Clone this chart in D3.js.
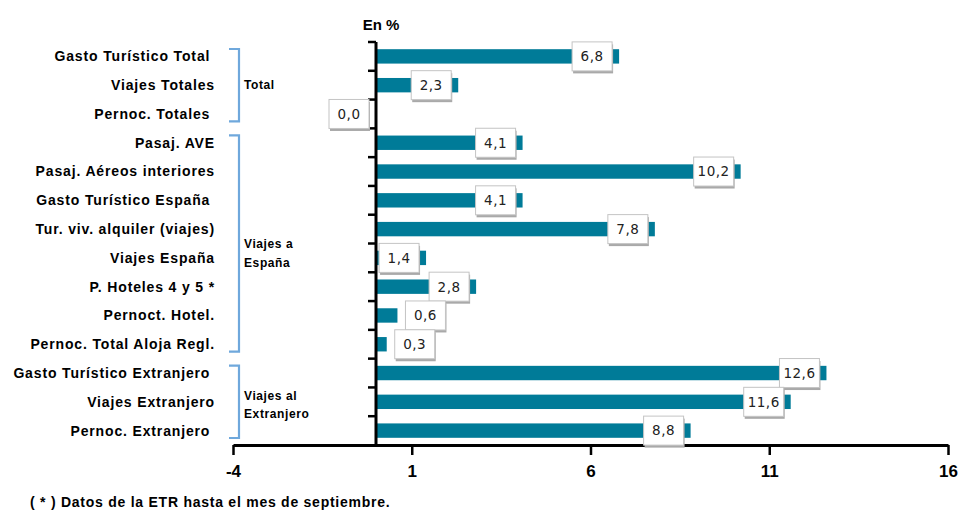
<!DOCTYPE html>
<html>
<head>
<meta charset="utf-8">
<script src="https://cdn.jsdelivr.net/npm/d3@7"></script>
<style>
  html, body { margin: 0; padding: 0; background: #fff; }
  svg { display: block; }
  text { white-space: pre; }
</style>
</head>
<body>
<svg id="chart" width="959" height="513"></svg>
<script>
// Categories (top to bottom) and their year-on-year change, in %
const categories = [
  "Gasto Turístico Total ",
  "Viajes Totales",
  "Pernoc. Totales ",
  "Pasaj. AVE",
  "Pasaj. Aéreos interiores",
  "Gasto Turístico España ",
  "Tur. viv. alquiler (viajes)",
  "Viajes España",
  "P. Hoteles 4 y 5 *",
  "Pernoct. Hotel.",
  "Pernoc. Total Aloja Regl.",
  "Gasto Turístico Extranjero ",
  "Viajes Extranjero",
  "Pernoc. Extranjero "
];
const values = [6.8, 2.3, 0.0, 4.1, 10.2, 4.1, 7.8, 1.4, 2.8, 0.6, 0.3, 12.6, 11.6, 8.8];

// Groups: label lines, first and last category index
const groupLabels = [["Total"], ["Viajes a", "España"], ["Viajes al", "Extranjero"]];
const groupStart = [0, 3, 11];
const groupEnd = [2, 10, 13];

const xTicks = [-4, 1, 6, 11, 16];
const xDomain = [-4, 16];
const unitTitle = "En %";
const footnote = "( * ) Datos de la ETR hasta el mes de septiembre.";

const svg = d3.select("#chart");
const barColor = "#007b98";
const bracketColor = "#6fa8dc";
const boldFont = "'Liberation Sans', Arial, sans-serif";

const x = d3.scaleLinear().domain(xDomain).range([233, 948]);
const y = d3.scaleBand().domain(categories).range([42, 445])
  .paddingInner(0.5).paddingOuter(0.25);

const fmt = v => v.toFixed(1).replace(".", ",");

// Bars
svg.append("g").selectAll("rect")
  .data(values)
  .join("rect")
  .attr("x", d => Math.min(x(0), x(d)))
  .attr("y", (d, i) => y(categories[i]))
  .attr("width", d => Math.abs(x(d) - x(0)))
  .attr("height", y.bandwidth())
  .attr("fill", barColor);

// X axis
const xAxis = svg.append("g")
  .attr("transform", `translate(0,${y.range()[1]})`)
  .call(d3.axisBottom(x).tickValues(xTicks).tickSize(10).tickSizeOuter(0).tickFormat(d => String(d)));
xAxis.select(".domain").attr("stroke", "#000").attr("stroke-width", 3);
xAxis.selectAll(".tick line").attr("stroke", "#000").attr("stroke-width", 2.5);
xAxis.selectAll(".tick text")
  .attr("y", 20).attr("dy", "0.71em")
  .attr("fill", "#000")
  .style("font-family", boldFont)
  .style("font-weight", "bold")
  .style("font-size", "17px");

// Y axis at zero with ticks at category boundaries
const yAxis = svg.append("g");
yAxis.append("line")
  .attr("x1", x(0)).attr("x2", x(0))
  .attr("y1", y.range()[0]).attr("y2", y.range()[1])
  .attr("stroke", "#000").attr("stroke-width", 3);
const boundaries = d3.range(categories.length).map(i => y.range()[0] + i * y.step());
yAxis.selectAll("line.tick")
  .data(boundaries)
  .join("line")
  .attr("class", "tick")
  .attr("x1", x(0) - 8).attr("x2", x(0))
  .attr("y1", d => d).attr("y2", d => d)
  .attr("stroke", "#000").attr("stroke-width", 2.5);

// Category labels
svg.append("g").selectAll("text")
  .data(categories)
  .join("text")
  .attr("x", 215)
  .attr("y", d => y(d) + y.bandwidth() / 2)
  .attr("dy", "0.35em")
  .attr("text-anchor", "end")
  .attr("fill", "#000")
  .style("font-family", boldFont)
  .style("font-weight", "bold")
  .style("font-size", "14px")
  .style("letter-spacing", "0.85px")
  .text(d => d);

// Group brackets and names
const inset = 7;
const gGroups = svg.append("g");
groupLabels.forEach((lines, gi) => {
  const top = y.range()[0] + groupStart[gi] * y.step() + inset;
  const bot = y.range()[0] + (groupEnd[gi] + 1) * y.step() - inset;
  gGroups.append("path")
    .attr("d", `M229,${top}H239V${bot}H229`)
    .attr("fill", "none")
    .attr("stroke", bracketColor)
    .attr("stroke-width", 2.2);
  const mid = (top + bot) / 2;
  const shift = lines.length === 1 ? 0 : (gi === 1 ? 10 : 3);
  const lh = 18.5;
  lines.forEach((ln, li) => {
    gGroups.append("text")
      .attr("x", 244)
      .attr("y", mid + shift + (li - (lines.length - 1) / 2) * lh)
      .attr("dy", "0.35em")
      .attr("fill", "#000")
      .style("font-family", boldFont)
      .style("font-weight", "bold")
      .style("font-size", "12px")
      .style("letter-spacing", "0.6px")
      .text(ln);
  });
});

// Value labels in boxes with a soft drop shadow
const boxW = 40, boxH = 29;
const labels = svg.append("g").selectAll("g")
  .data(values)
  .join("g")
  .attr("transform", (d, i) => {
    const cy = y(categories[i]) + y.bandwidth() / 2;
    const left = (d > 0 && d < 1) ? x(d) + 8 : x(d) - 7 - boxW;
    return `translate(${left},${cy - boxH / 2})`;
  });
labels.append("rect")
  .attr("x", 1).attr("y", 2.5)
  .attr("width", boxW).attr("height", boxH)
  .attr("fill", "#a9a9a9");
labels.append("rect")
  .attr("x", 0).attr("y", 0)
  .attr("width", boxW).attr("height", boxH)
  .attr("fill", "#fff")
  .attr("stroke", "#c4c4c4").attr("stroke-width", 1);
labels.append("text")
  .attr("x", boxW / 2).attr("y", boxH / 2)
  .attr("dy", "0.36em")
  .attr("text-anchor", "middle")
  .attr("fill", "#222")
  .style("font-family", "'DejaVu Sans', sans-serif")
  .style("font-size", "13.5px")
  .style("letter-spacing", "0.5px")
  .text(d => fmt(d));

// Unit title
svg.append("text")
  .attr("x", 381).attr("y", 25)
  .attr("dy", "0.35em")
  .attr("text-anchor", "middle")
  .attr("fill", "#000")
  .style("font-family", boldFont)
  .style("font-weight", "bold")
  .style("font-size", "15px")
  .text(unitTitle);

// Footnote
svg.append("text")
  .attr("x", 30).attr("y", 502)
  .attr("dy", "0.35em")
  .attr("fill", "#000")
  .style("font-family", boldFont)
  .style("font-weight", "bold")
  .style("font-size", "14px")
  .style("letter-spacing", "0.75px")
  .text(footnote);
</script>
</body>
</html>
